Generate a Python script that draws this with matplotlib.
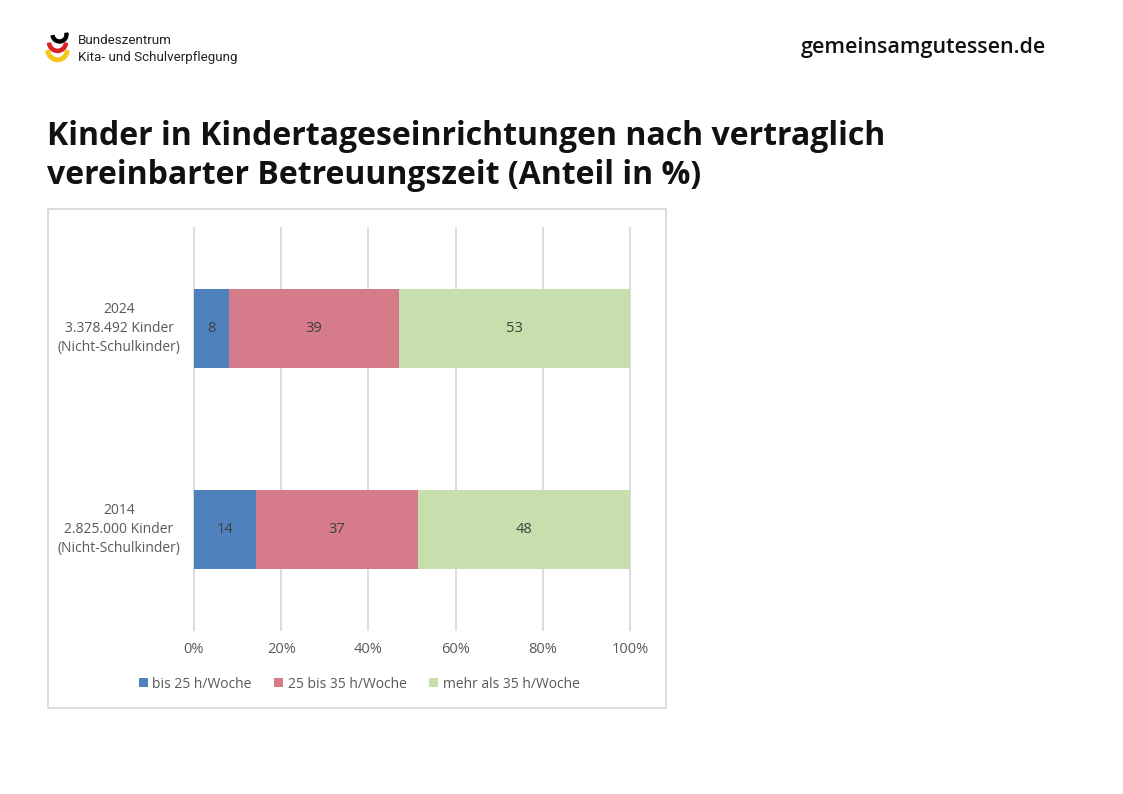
import numpy as np
import matplotlib
matplotlib.use('Agg')
import matplotlib.pyplot as plt
from matplotlib.patches import Rectangle, Wedge

plt.rcParams['font.family'] = ['Open Sans', 'DejaVu Sans']

W, H = 1123, 794

years = ['2014\n2.825.000 Kinder\n(Nicht-Schulkinder)', '2024\n3.378.492 Kinder\n(Nicht-Schulkinder)']
bis_25 = [14.2, 8]
bis_35 = [37.1, 39]
mehr_35 = [48.7, 53]
label_25 = ['14', '8']
label_35 = ['37', '39']
label_mehr = ['48', '53']
series_names = ['bis 25 h/Woche', '25 bis 35 h/Woche', 'mehr als 35 h/Woche']
colors = ['#4f81bd', '#d67b89', '#c6dfac']
ticks = [0, 20, 40, 60, 80, 100]

fig = plt.figure(figsize=(W / 100, H / 100), dpi=100)
bg = fig.add_axes([0, 0, 1, 1])
bg.set_xlim(0, W)
bg.set_ylim(H, 0)
bg.axis('off')

# logo
bg.add_patch(Wedge((59.5, 34.5), 8.5, -10, 170, width=3, color='black'))
bg.add_patch(Wedge((57.5, 42.5), 10, 5, 175, width=3.2, color='#dd1f26'))
bg.add_patch(Wedge((57.5, 50), 11.5, 5, 175, width=3.5, color='#f5c518'))
bg.text(78, 40, 'Bundeszentrum', fontsize=9.6, va='center', color='#222222', family='Roboto')
bg.text(78, 57, 'Kita- und Schulverpflegung', fontsize=9.6, va='center', color='#222222', family='Roboto')

bg.text(801, 48, 'gemeinsamgutessen.de', fontsize=15.5, fontweight='semibold', va='center', color='#111111')
bg.text(47, 136.5, 'Kinder in Kindertageseinrichtungen nach vertraglich', fontsize=23, fontweight='bold', va='center', color='#111111')
bg.text(47, 175, 'vereinbarter Betreuungszeit (Anteil in %)', fontsize=23, fontweight='bold', va='center', color='#111111')

bg.add_patch(Rectangle((47.5, 209), 618.5, 499, fill=False, ec='#d9d9d9', lw=1.3))

ax = fig.add_axes([194 / W, 1 - 630 / H, 436 / W, 402 / H])
ax.patch.set_alpha(0)
y = [0.25, 0.75]
h = 0.198
left_35 = np.array(bis_25)
left_mehr = left_35 + np.array(bis_35)
ax.barh(y, bis_25, h, color=colors[0], label=series_names[0], zorder=3)
ax.barh(y, bis_35, h, left=left_35, color=colors[1], label=series_names[1], zorder=3)
ax.barh(y, mehr_35, h, left=left_mehr, color=colors[2], label=series_names[2], zorder=3)
for i in range(2):
    ax.text(bis_25[i] / 2, y[i], label_25[i], ha='center', va='center', fontsize=10.5, color='#404040', zorder=4)
    ax.text(left_35[i] + bis_35[i] / 2, y[i], label_35[i], ha='center', va='center', fontsize=10.5, color='#404040', zorder=4)
    ax.text(left_mehr[i] + mehr_35[i] / 2, y[i], label_mehr[i], ha='center', va='center', fontsize=10.5, color='#404040', zorder=4)

ax.set_xlim(0, 100)
ax.set_ylim(0, 1)
ax.set_xticks(ticks)
ax.set_xticklabels([f'{t}%' for t in ticks], fontsize=10.5, color='#595959')
ax.set_yticks(y)
ax.set_yticklabels(years, fontsize=10, color='#595959', linespacing=1.33)
for lab in ax.get_yticklabels():
    lab.set_horizontalalignment('center')
    lab.set_verticalalignment('center')
    lab.set_multialignment('center')
ax.tick_params(length=0)
ax.tick_params(axis='x', pad=8.5)
ax.tick_params(axis='y', pad=54)
ax.grid(axis='x', color='#d9d9d9', lw=1.3, zorder=0)
for line in ax.get_xgridlines():
    line.set_clip_on(False)
for s in ax.spines.values():
    s.set_visible(False)

ax.legend(loc='upper center', bbox_to_anchor=(0.379, -0.085), ncol=3, frameon=False, fontsize=10,
          labelcolor='#595959', handlelength=0.65, handleheight=0.65, handletextpad=0.3, columnspacing=1.65)

fig.savefig('out.png', dpi=100)
